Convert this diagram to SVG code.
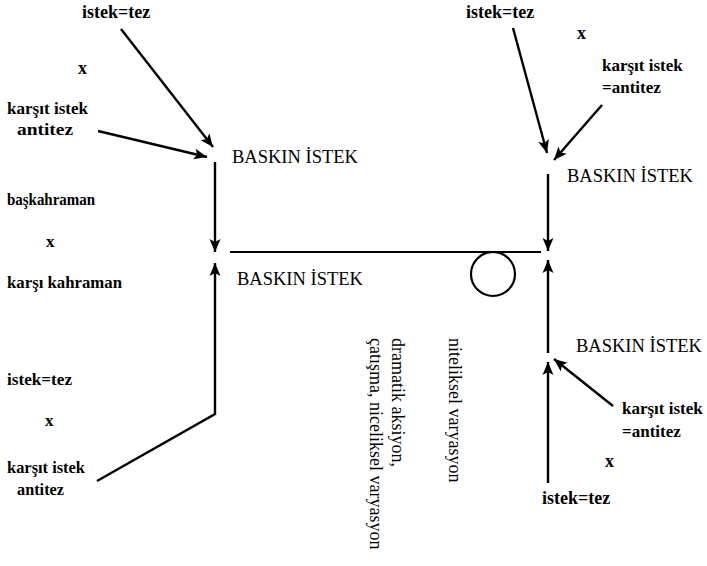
<svg xmlns="http://www.w3.org/2000/svg" width="707" height="566" viewBox="0 0 707 566">
<defs>
<marker id="ah" markerUnits="userSpaceOnUse" markerWidth="16" markerHeight="12" viewBox="0 -6 14 12" refX="13" refY="0" orient="auto">
<path d="M0,-5.5 L13,0 L0,5.5 L3,0 z" fill="#000"/>
</marker>
<style>
.b{font-family:"Liberation Serif","Times New Roman",serif;font-weight:bold;font-size:18px;fill:#000}
.k{font-family:"Liberation Serif","Times New Roman",serif;font-weight:bold;font-size:17px;fill:#000}
.g{font-family:"Liberation Serif","Times New Roman",serif;font-weight:bold;font-size:17px;fill:#000}
.r{font-family:"Liberation Serif","Times New Roman",serif;font-size:18.5px;fill:#000}
.v{font-family:"Liberation Serif","Times New Roman",serif;font-size:18px;fill:#000}
.ln{stroke:#000;stroke-width:2.2;fill:none}
.ar{stroke:#000;stroke-width:2.4;fill:none;marker-end:url(#ah)}
</style>
</defs>
<rect width="707" height="566" fill="#fff"/>
<g id="connectors">
<line class="ar" x1="121" y1="29" x2="213" y2="147"/>
<line class="ar" x1="98" y1="131" x2="207" y2="157"/>
<line class="ar" x1="215" y1="162" x2="215" y2="252"/>
<path class="ar" d="M97,481 L215,414 L215,263"/>
<line class="ln" x1="230" y1="252" x2="541" y2="252"/>
<circle class="ln" cx="493" cy="274" r="22"/>
<line class="ar" x1="513" y1="28" x2="547" y2="153"/>
<line class="ar" x1="602" y1="105" x2="554" y2="160"/>
<line class="ar" x1="548" y1="174" x2="548" y2="251"/>
<line class="ar" x1="548" y1="353" x2="548" y2="260"/>
<line class="ar" x1="548" y1="483" x2="548" y2="362"/>
<line class="ar" x1="613" y1="406" x2="554" y2="359"/>
</g>
<g id="tl-tez"><text class="b" x="82" y="18">istek=tez</text></g>
<g id="tl-x"><text class="b" x="78" y="74">x</text></g>
<g id="tl-antitez"><text class="g" x="7" y="114" textLength="81" lengthAdjust="spacingAndGlyphs">karşıt istek</text><text class="g" x="17" y="135" textLength="56" lengthAdjust="spacingAndGlyphs">antitez</text></g>
<g id="baskin-1"><text class="r" x="232" y="163">BASKIN İSTEK</text></g>
<g id="baskin-2"><text class="r" x="237" y="285">BASKIN İSTEK</text></g>
<g id="l-bas"><text class="g" x="7" y="205" textLength="88" lengthAdjust="spacingAndGlyphs">başkahraman</text></g>
<g id="l-x"><text class="g" x="46" y="247">x</text></g>
<g id="l-karsi"><text class="g" x="7" y="288" textLength="115" lengthAdjust="spacingAndGlyphs">karşı kahraman</text></g>
<g id="bl-tez"><text class="g" x="7" y="385" textLength="65" lengthAdjust="spacingAndGlyphs">istek=tez</text></g>
<g id="bl-x"><text class="g" x="45" y="426">x</text></g>
<g id="bl-antitez"><text class="g" x="7" y="473" textLength="78" lengthAdjust="spacingAndGlyphs">karşıt istek</text><text class="g" x="17" y="495" textLength="47" lengthAdjust="spacingAndGlyphs">antitez</text></g>
<g id="tr-tez"><text class="b" x="466" y="18">istek=tez</text></g>
<g id="tr-x"><text class="b" x="577" y="39">x</text></g>
<g id="tr-antitez"><text class="k" x="602" y="71">karşıt istek</text><text class="k" x="602" y="93">=antitez</text></g>
<g id="baskin-3"><text class="r" x="567" y="182">BASKIN İSTEK</text></g>
<g id="baskin-4"><text class="r" x="576" y="352">BASKIN İSTEK</text></g>
<g id="br-antitez"><text class="k" x="622" y="414">karşıt istek</text><text class="k" x="622" y="437">=antitez</text></g>
<g id="br-x"><text class="b" x="605" y="467">x</text></g>
<g id="br-tez"><text class="b" x="542" y="504">istek=tez</text></g>
<g id="nitel"><text class="v" transform="translate(449,338) rotate(90)">niteliksel varyasyon</text></g>
<g id="dramatik"><text class="v" transform="translate(392,338) rotate(90)">dramatik aksiyon,</text><text class="v" transform="translate(370,338) rotate(90)">çatışma, niceliksel varyasyon</text></g>
</svg>
